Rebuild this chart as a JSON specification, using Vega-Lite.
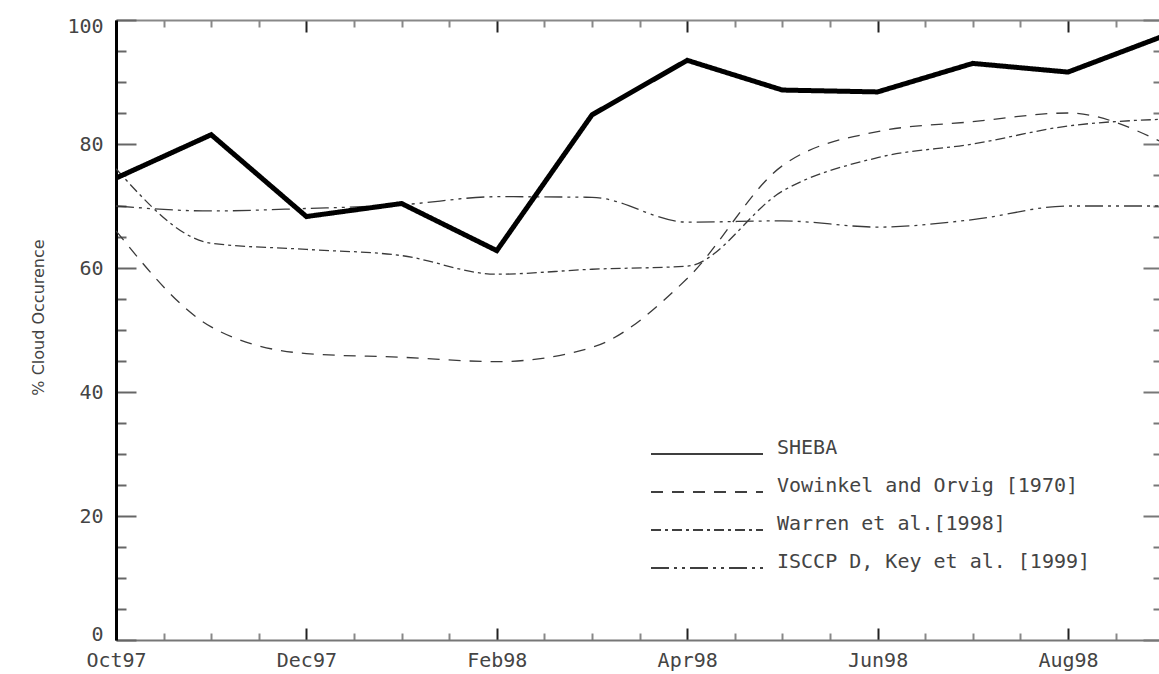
{
  "$schema": "https://vega.github.io/schema/vega-lite/v6.json",
  "width": 1043,
  "height": 620,
  "autosize": {"type": "none"},
  "padding": {"left": 116, "top": 20, "right": 0, "bottom": 34},
  "background": "white",
  "config": {
    "view": {"stroke": null},
    "font": "DejaVu Sans",
    "axis": {"grid": false, "zindex": 1, "labelFont": "DejaVu Sans Mono", "labelFontSize": 20, "labelColor": "#444", "labelOverlap": false, "labelFlush": false}
  },
  "data": {
    "values": [
      {"m": 0, "series": "SHEBA", "value": 74.5},
      {"m": 1, "series": "SHEBA", "value": 81.5},
      {"m": 2, "series": "SHEBA", "value": 68.3},
      {"m": 3, "series": "SHEBA", "value": 70.4},
      {"m": 4, "series": "SHEBA", "value": 62.8},
      {"m": 5, "series": "SHEBA", "value": 84.7},
      {"m": 6, "series": "SHEBA", "value": 93.5},
      {"m": 7, "series": "SHEBA", "value": 88.7},
      {"m": 8, "series": "SHEBA", "value": 88.4},
      {"m": 9, "series": "SHEBA", "value": 93.0},
      {"m": 10, "series": "SHEBA", "value": 91.6},
      {"m": 11, "series": "SHEBA", "value": 97.4},
      {"m": 0, "series": "Vowinkel and Orvig [1970]", "value": 66.0},
      {"m": 1, "series": "Vowinkel and Orvig [1970]", "value": 50.5},
      {"m": 2, "series": "Vowinkel and Orvig [1970]", "value": 46.2},
      {"m": 3, "series": "Vowinkel and Orvig [1970]", "value": 45.6},
      {"m": 4, "series": "Vowinkel and Orvig [1970]", "value": 44.9},
      {"m": 5, "series": "Vowinkel and Orvig [1970]", "value": 47.2},
      {"m": 6, "series": "Vowinkel and Orvig [1970]", "value": 58.3},
      {"m": 7, "series": "Vowinkel and Orvig [1970]", "value": 76.5},
      {"m": 8, "series": "Vowinkel and Orvig [1970]", "value": 82.0},
      {"m": 9, "series": "Vowinkel and Orvig [1970]", "value": 83.6},
      {"m": 10, "series": "Vowinkel and Orvig [1970]", "value": 85.0},
      {"m": 11, "series": "Vowinkel and Orvig [1970]", "value": 80.2},
      {"m": 0, "series": "Warren et al.[1998]", "value": 76.0},
      {"m": 1, "series": "Warren et al.[1998]", "value": 64.0},
      {"m": 2, "series": "Warren et al.[1998]", "value": 63.0},
      {"m": 3, "series": "Warren et al.[1998]", "value": 62.0},
      {"m": 4, "series": "Warren et al.[1998]", "value": 59.0},
      {"m": 5, "series": "Warren et al.[1998]", "value": 59.8},
      {"m": 6, "series": "Warren et al.[1998]", "value": 60.3},
      {"m": 7, "series": "Warren et al.[1998]", "value": 72.4},
      {"m": 8, "series": "Warren et al.[1998]", "value": 77.8},
      {"m": 9, "series": "Warren et al.[1998]", "value": 80.0},
      {"m": 10, "series": "Warren et al.[1998]", "value": 82.9},
      {"m": 11, "series": "Warren et al.[1998]", "value": 84.0},
      {"m": 0, "series": "ISCCP D, Key et al. [1999]", "value": 70.0},
      {"m": 1, "series": "ISCCP D, Key et al. [1999]", "value": 69.2},
      {"m": 2, "series": "ISCCP D, Key et al. [1999]", "value": 69.6},
      {"m": 3, "series": "ISCCP D, Key et al. [1999]", "value": 70.2},
      {"m": 4, "series": "ISCCP D, Key et al. [1999]", "value": 71.5},
      {"m": 5, "series": "ISCCP D, Key et al. [1999]", "value": 71.4},
      {"m": 6, "series": "ISCCP D, Key et al. [1999]", "value": 67.4},
      {"m": 7, "series": "ISCCP D, Key et al. [1999]", "value": 67.6},
      {"m": 8, "series": "ISCCP D, Key et al. [1999]", "value": 66.6},
      {"m": 9, "series": "ISCCP D, Key et al. [1999]", "value": 67.8},
      {"m": 10, "series": "ISCCP D, Key et al. [1999]", "value": 70.0},
      {"m": 11, "series": "ISCCP D, Key et al. [1999]", "value": 70.0}
    ]
  },
  "layer": [
    {
      "transform": [{"filter": "datum.series !== 'SHEBA'"}],
      "mark": {"type": "line", "interpolate": "monotone", "clip": true, "strokeWidth": 1.3, "color": "#3a3a3a"},
      "encoding": {
        "x": {
          "field": "m", "type": "quantitative",
          "scale": {"domain": [0, 10.956], "nice": false, "zero": false},
          "axis": {
            "orient": "bottom", "title": null,
            "values": [0, 0.5, 1, 1.5, 2, 2.5, 3, 3.5, 4, 4.5, 5, 5.5, 6, 6.5, 7, 7.5, 8, 8.5, 9, 9.5, 10, 10.5],
            "labelExpr": "datum.value % 2 === 0 ? ['Oct97','Nov97','Dec97','Jan98','Feb98','Mar98','Apr98','May98','Jun98','Jul98','Aug98','Sep98'][datum.value] : ''",
            "tickSize": {"condition": {"test": "datum.value % 2 === 0", "value": -12}, "value": -7},
            "tickColor": {"condition": {"test": "datum.value % 2 === 0", "value": "#222"}, "value": "#888"},
            "tickWidth": 2,
            "domainColor": "#777", "domainWidth": 2,
            "labelPadding": 22, "labelBaseline": "top"
          }
        },
        "y": {
          "field": "value", "type": "quantitative",
          "scale": {"domain": [0, 100], "nice": false},
          "axis": {
            "orient": "left",
            "values": [0, 5, 10, 15, 20, 25, 30, 35, 40, 45, 50, 55, 60, 65, 70, 75, 80, 85, 90, 95, 100],
            "labelExpr": "datum.value % 20 === 0 ? datum.label : ''",
            "labelOffset": {"condition": [{"test": "datum.value === 0", "value": -6}, {"test": "datum.value === 100", "value": 6}], "value": 0},
            "tickSize": {"condition": {"test": "datum.value % 20 === 0", "value": -20}, "value": -10},
            "tickColor": "#666", "tickWidth": 2,
            "domainColor": "#000", "domainWidth": 3,
            "labelPadding": 33,
            "title": "% Cloud Occurence",
            "titleFont": "DejaVu Sans", "titleFontSize": 16, "titleFontWeight": "normal", "titleColor": "#444",
            "titleX": -78, "titleY": 297, "titleAngle": -90, "titleAlign": "center", "titleBaseline": "middle"
          }
        },
        "strokeDash": {
          "field": "series", "type": "nominal",
          "scale": {
            "domain": ["SHEBA", "Vowinkel and Orvig [1970]", "Warren et al.[1998]", "ISCCP D, Key et al. [1999]"],
            "range": [[1, 0], [12, 9], [10, 4, 3, 4], [18, 5, 3, 5, 3, 5]]
          },
          "legend": {
            "orient": "none", "legendX": 581, "legendY": 424, "title": null,
            "symbolType": "M-7,0H7", "symbolSize": 256, "symbolStrokeWidth": 1.3, "symbolStrokeColor": "#333", "symbolFillColor": "transparent",
            "labelFont": "DejaVu Sans Mono", "labelFontSize": 20, "labelColor": "#444", "labelOffset": 60, "labelLimit": 500,
            "labelBaseline": "alphabetic", "rowPadding": 18
          }
        }
      }
    },
    {
      "transform": [{"filter": "datum.series === 'SHEBA'"}],
      "mark": {"type": "line", "clip": true, "strokeWidth": 5, "color": "#000"},
      "encoding": {
        "x": {
          "field": "m", "type": "quantitative",
          "axis": {
            "orient": "top", "title": null, "labels": false,
            "values": [0, 0.5, 1, 1.5, 2, 2.5, 3, 3.5, 4, 4.5, 5, 5.5, 6, 6.5, 7, 7.5, 8, 8.5, 9, 9.5, 10, 10.5],
            "tickSize": {"condition": {"test": "datum.value % 2 === 0", "value": -12}, "value": -7},
            "tickColor": {"condition": {"test": "datum.value % 2 === 0", "value": "#222"}, "value": "#888"},
            "tickWidth": 2,
            "domainColor": "#888", "domainWidth": 2
          }
        },
        "y": {
          "field": "value", "type": "quantitative",
          "axis": {
            "orient": "right", "title": null, "labels": false, "domain": false,
            "values": [0, 5, 10, 15, 20, 25, 30, 35, 40, 45, 50, 55, 60, 65, 70, 75, 80, 85, 90, 95, 100],
            "tickSize": {"condition": {"test": "datum.value % 20 === 0", "value": -16}, "value": -6},
            "tickColor": "#777", "tickWidth": 2
          }
        },
        "strokeDash": {"field": "series", "type": "nominal"}
      }
    }
  ]
}
